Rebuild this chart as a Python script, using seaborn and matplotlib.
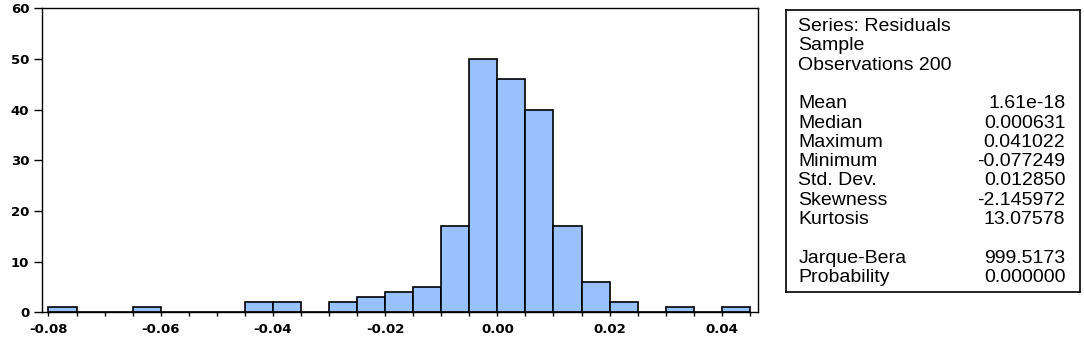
import numpy as np
import seaborn as sns
import matplotlib.pyplot as plt
from matplotlib.ticker import MultipleLocator, FormatStrFormatter

# histogram of residuals: bin left edges (width 0.005) and counts
bin_left = [-0.080, -0.075, -0.070, -0.065, -0.060, -0.055, -0.050, -0.045,
            -0.040, -0.035, -0.030, -0.025, -0.020, -0.015, -0.010, -0.005,
            0.000, 0.005, 0.010, 0.015, 0.020, 0.025, 0.030, 0.035, 0.040]
counts = [1, 0, 0, 1, 0, 0, 0, 2, 2, 0, 2, 3, 4, 5, 17, 50,
          46, 40, 17, 6, 2, 0, 1, 0, 1]
bin_width = 0.005

# summary statistics box
stat_names = ["Mean", "Median", "Maximum", "Minimum", "Std. Dev.",
              "Skewness", "Kurtosis"]
stat_values = ["1.61e-18", "0.000631", "0.041022", "-0.077249", "0.012850",
               "-2.145972", "13.07578"]
test_names = ["Jarque-Bera", "Probability"]
test_values = ["999.5173", "0.000000"]
header = ["Series: Residuals", "Sample", "Observations 200"]

sns.set_style("ticks")
plt.rcParams['font.family'] = ['Liberation Sans', 'DejaVu Sans']
plt.rcParams['text.color'] = 'black'

fig = plt.figure(figsize=(10.84, 3.37), dpi=100)
ax = fig.add_axes([0.0385, 0.0733, 0.661, 0.9021])

# one value per observation at its bin centre, binned again by seaborn
resid = np.repeat(np.array(bin_left) + bin_width / 2, counts)
sns.histplot(x=resid, binwidth=bin_width,
             binrange=(bin_left[0], bin_left[-1] + bin_width),
             color="#99c2fc", edgecolor="black", linewidth=1.2, alpha=1,
             ax=ax)

ax.set_xlim(-0.0812, 0.0465)
ax.set_ylim(0, 60)
ax.set_ylabel("")
ax.set_xlabel("")
ax.xaxis.set_major_locator(MultipleLocator(0.02))
ax.xaxis.set_minor_locator(MultipleLocator(0.005))
ax.xaxis.set_major_formatter(FormatStrFormatter("%.2f"))
ax.yaxis.set_major_locator(MultipleLocator(10))
for lab in ax.get_xticklabels() + ax.get_yticklabels():
    lab.set_fontweight("bold")
    lab.set_family(["DejaVu Sans"])
ax.tick_params(axis="x", which="both", length=3, width=1, pad=5,
               labelsize=9.5, colors="black")
ax.tick_params(axis="y", length=6, width=1, pad=3, labelsize=9.5,
               colors="black")
for sp in ax.spines.values():
    sp.set_visible(True)
    sp.set_color("black")
    sp.set_linewidth(1.0)

# stats panel
box = fig.add_axes([0.7248, 0.1344, 0.2715, 0.8359])
box.set_xticks([])
box.set_yticks([])
for sp in box.spines.values():
    sp.set_color("black")
    sp.set_linewidth(1.2)

box_h = 0.8359 * 337
y0 = 10.0

def line_y(i):
    px = 26.5 + 19.3 * i
    return 1 - (px - y0) / box_h

fs = 14
for i, t in enumerate(header):
    box.text(0.043, line_y(i), t, transform=box.transAxes, fontsize=fs,
             va="center", ha="left")
for k, (n, v) in enumerate(zip(stat_names, stat_values)):
    i = 4 + k
    box.text(0.043, line_y(i), n, transform=box.transAxes, fontsize=fs,
             va="center", ha="left")
    box.text(0.95, line_y(i), v, transform=box.transAxes, fontsize=fs,
             va="center", ha="right")
for k, (n, v) in enumerate(zip(test_names, test_values)):
    i = 12 + k
    box.text(0.043, line_y(i), n, transform=box.transAxes, fontsize=fs,
             va="center", ha="left")
    box.text(0.95, line_y(i), v, transform=box.transAxes, fontsize=fs,
             va="center", ha="right")

fig.savefig("out.png", dpi=100)
